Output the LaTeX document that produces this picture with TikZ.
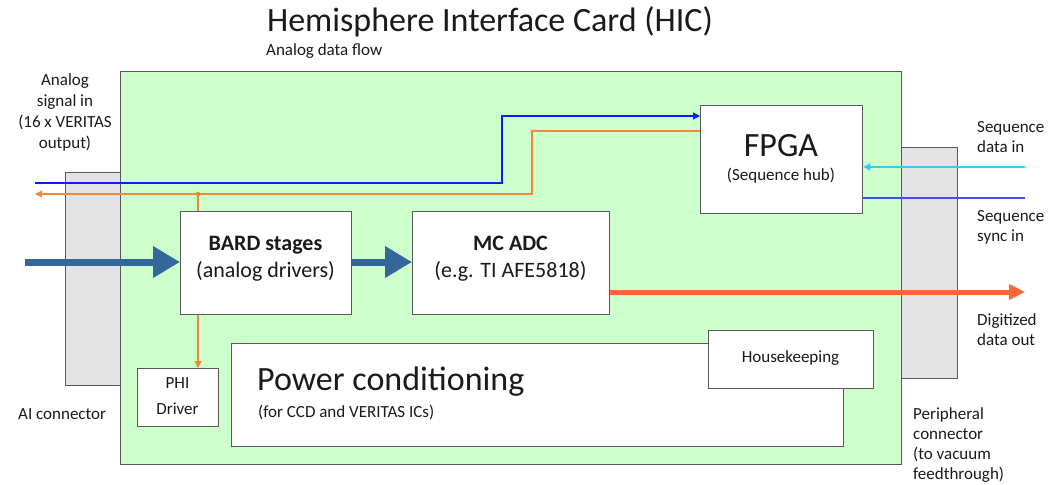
\documentclass[tikz,border=0pt]{standalone}
\usepackage{fontspec}
\setmainfont{Carlito}
\usetikzlibrary{arrows.meta,calc}
\definecolor{cardgreen}{HTML}{CCFFCC}
\definecolor{conngray}{HTML}{E3E3E3}
\definecolor{edgegray}{HTML}{595959}
\definecolor{lineblue}{HTML}{0A1EFF}
\definecolor{lineorange}{HTML}{F08A3A}
\definecolor{thickblue}{HTML}{336699}
\definecolor{thickorange}{HTML}{FF6633}
\definecolor{seqcyan}{HTML}{33CCFF}
\definecolor{syncblue}{HTML}{4A4AF5}
\definecolor{txt}{HTML}{1A1A1A}
\tikzset{
  box/.style={draw=edgegray, line width=1.3pt, fill=white, anchor=north west, inner sep=0pt},
  conn/.style={draw=edgegray, line width=1.3pt, fill=conngray, anchor=north west, inner sep=0pt},
  lbl/.style={inner sep=0pt, text=txt, font=\fontsize{17}{20.5}\selectfont, align=left, anchor=north west},
  small/.style={inner sep=0pt, text=txt, font=\fontsize{17}{26}\selectfont},
  big/.style={inner sep=0pt, text=txt, font=\fontsize{34}{36}\selectfont},
  mid/.style={inner sep=0pt, text=txt, font=\fontsize{22}{27}\selectfont, align=center},
  thinarrow/.style={line width=1.2pt, -{Triangle[length=7pt,width=7pt]}},
  bigblue/.style={draw=thickblue, line width=7pt, -{Triangle[length=27pt,width=30pt]}},
  bigorange/.style={draw=thickorange, line width=5pt, -{Triangle[length=16pt,width=15pt]}},
}
\begin{document}
\begin{tikzpicture}[x=1pt,y=-1pt]
\useasboundingbox (0,0) rectangle (1056,484);
% connectors and card
\node[conn, minimum width=55pt, minimum height=213pt] (aiconn) at (65,172) {};
\node[conn, minimum width=56pt, minimum height=231pt] (pconn) at (901,147) {};
\node[draw=edgegray, line width=1.3pt, fill=cardgreen, anchor=north west, inner sep=0pt,
      minimum width=781pt, minimum height=393pt] (card) at (120,71) {};
% title
\node[big] (title) at (490,22) {Hemisphere Interface Card (HIC)};
\node[small, anchor=west] (flow) at (266,51) {Analog data flow};
% boxes
\node[box, minimum width=162pt, minimum height=108pt] (fpga) at (700,105) {};
\node[big] (fpgat) at (781,146) {FPGA};
\node[small] (fpgas) at (781,176) {(Sequence hub)};
\node[box, minimum width=171pt, minimum height=103pt] (bard) at (180,211) {};
\node[mid] (bardt) at (265.5,259) {\textbf{BARD stages}\\(analog drivers)};
\node[box, minimum width=197pt, minimum height=103pt] (adc) at (412,211) {};
\node[mid] (adct) at (510.5,259) {\textbf{MC ADC}\\(e.g. TI AFE5818)};
\node[box, minimum width=81pt, minimum height=58pt] (phi) at (137,368) {};
\node[small, align=center] (phit) at (177.5,396) {PHI\\Driver};
\node[box, minimum width=612pt, minimum height=103pt] (power) at (231,343) {};
\node[big, anchor=west] (powert) at (257,382) {Power conditioning};
\node[small, anchor=west] (powers) at (258,412) {(for CCD and VERITAS ICs)};
\node[box, minimum width=165pt, minimum height=58pt] (hk) at (708,330) {};
\node[small] (hkt) at (790.5,358) {Housekeeping};
% labels
\node[lbl, align=center, anchor=north, font=\fontsize{17}{21}\selectfont] (ain) at (65,73) {Analog\\signal in\\(16 x VERITAS\\output)};
\node[lbl, anchor=west] (aic) at (18,414) {AI connector};
\node[lbl] (seqd) at (977,121) {Sequence\\data in};
\node[lbl] (seqs) at (977,210) {Sequence\\sync in};
\node[lbl] (dig) at (977,313) {Digitized\\data out};
\node[lbl, font=\fontsize{17}{20}\selectfont] (per) at (913,407) {Peripheral\\connector\\(to vacuum\\feedthrough)};
% coordinates
\coordinate (bluel) at (35,183);
\coordinate (orl) at (35,194);
\coordinate (dot) at (198,194);
\coordinate (seqdin) at (1025,167);
\coordinate (seqsin) at (1025,198);
\coordinate (digout) at (1025,292);
\coordinate (ain0) at (25,262);
% thin lines
\draw[lineblue, thinarrow] (bluel) -| (502,116) -- (fpga.west |- 0,116);
\draw[lineorange, thinarrow] (fpga.west |- 0,131) -| (532,194) -- (orl);
\fill[lineorange] (dot) circle (2.3pt);
\draw[lineorange, line width=1.2pt] (dot) -- (bard.north -| dot);
\draw[lineorange, thinarrow] (bard.south -| dot) -- (phi.north -| dot);
\draw[seqcyan, thinarrow] (seqdin) -- (fpga.east |- seqdin);
\draw[syncblue, line width=1.2pt] (seqsin) -- (fpga.east |- seqsin);
% thick arrows
\draw[bigblue] (ain0) -- (bard.west |- ain0);
\draw[bigblue] (bard.east |- ain0) -- (adc.west |- ain0);
\draw[bigorange] (adc.east |- digout) -- (digout);
\end{tikzpicture}
\end{document}
